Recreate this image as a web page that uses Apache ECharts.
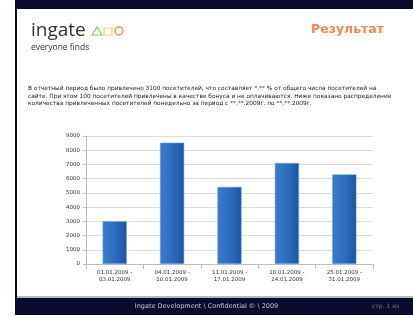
<!DOCTYPE html>
<html>
<head>
<meta charset="utf-8">
<script src="https://cdn.jsdelivr.net/npm/echarts@6/dist/echarts.min.js"></script>
<style>
  html, body { margin: 0; padding: 0; background: #fff; }
  #chart { width: 413px; height: 318px; }
</style>
</head>
<body>
<div id="chart"></div>
<script>
// weekly periods and visitor counts
const weeks = ['01.01.2009 -\n03.01.2009', '04.01.2009 -\n10.01.2009', '11.01.2009 -\n17.01.2009', '18.01.2009 -\n24.01.2009', '25.01.2009 -\n31.01.2009'];
const visitors = [3000, 8530, 5420, 7100, 6300];
const yTicks = [0, 1000, 2000, 3000, 4000, 5000, 6000, 7000, 8000, 9000];

const intro = [
    'В отчетный период было привлечено 3100 посетителей, что составляет *.** % от общего числа посетителей на',
    'сайте. При этом 100 посетителей привлечены в качестве бонуса и не оплачиваются. Ниже показано распределение',
    'количества привлеченных посетителей понедельно за период с **.**.2009г. по **.**.2009г.'
];

document.addEventListener('DOMContentLoaded', function () {
    const chart = echarts.init(document.getElementById('chart'));
    const navy = '#0b0b2c';

    const option = {
        animation: false,
        backgroundColor: '#fff',
        textStyle: { fontFamily: 'DejaVu Sans' },
        grid: { left: 86, right: 40, top: 136, bottom: 54 },
        xAxis: {
            type: 'category',
            data: weeks,
            axisLine: { lineStyle: { color: '#bdbdbd' } },
            axisTick: { show: true, lineStyle: { color: '#bdbdbd' } },
            axisLabel: { fontSize: 5.5, color: '#333', lineHeight: 7, margin: 5 }
        },
        yAxis: {
            type: 'value',
            min: yTicks[0],
            max: yTicks[yTicks.length - 1],
            interval: 1000,
            axisLine: { show: true, lineStyle: { color: '#bdbdbd' } },
            axisTick: { show: true, length: 3, lineStyle: { color: '#bdbdbd' } },
            axisLabel: {
                fontSize: 5.5, color: '#333', margin: 6,
                formatter: function (value) { return String(value); }
            },
            splitLine: { lineStyle: { color: '#dcdcdc' } }
        },
        series: [
            {
                type: 'bar',
                data: visitors,
                barWidth: '42%',
                itemStyle: {
                    color: new echarts.graphic.LinearGradient(0, 0, 1, 0, [
                        { offset: 0, color: '#3a7ccb' },
                        { offset: 0.5, color: '#2d6ebf' },
                        { offset: 1, color: '#1d559e' }
                    ]),
                    borderColor: '#6aa3e0',
                    borderWidth: 0.5
                }
            }
        ],
        graphic: [
            // frame
            { type: 'rect', shape: { x: 15, y: 0, width: 398, height: 9 }, style: { fill: navy } },
            { type: 'rect', shape: { x: 15, y: 0, width: 2, height: 315 }, style: { fill: navy } },
            { type: 'rect', shape: { x: 17, y: 296, width: 396, height: 2 }, style: { fill: '#b9b9b9' } },
            { type: 'rect', shape: { x: 15, y: 298, width: 398, height: 17 }, style: { fill: navy } },
            // header
            { type: 'text', left: 31, top: 21, style: { text: 'ingate', fontSize: 19, fontFamily: 'Open Sans', fill: '#333' } },
            { type: 'polygon', shape: { points: [[92, 35], [97, 27], [102, 35]] }, style: { fill: 'none', stroke: '#8cc36a', lineWidth: 1.2 } },
            { type: 'rect', shape: { x: 104, y: 28, width: 8, height: 7 }, style: { fill: 'none', stroke: '#f0d25a', lineWidth: 1.2 } },
            { type: 'circle', shape: { cx: 119, cy: 31, r: 4 }, style: { fill: 'none', stroke: '#ef8c55', lineWidth: 1.4 } },
            { type: 'text', left: 31, top: 43, style: { text: 'everyone finds', fontSize: 8.5, fontFamily: 'Open Sans', fill: '#333' } },
            { type: 'text', left: 311, top: 23, style: { text: 'Результат', fontSize: 12.5, fontWeight: 'bold', fontFamily: 'DejaVu Sans', fill: '#ec8a50' } },
            // intro paragraph
            { type: 'text', left: 28, top: 85, style: { text: intro.join('\n'), fontSize: 5.85, lineHeight: 7.5, fontFamily: 'DejaVu Sans', fill: '#222' } },
            // footer
            { type: 'text', left: 'center', top: 303, style: { text: 'Ingate Development \\ Confidential © \\ 2009', fontSize: 6.5, fontFamily: 'DejaVu Sans', fill: '#c8c8c8' } },
            { type: 'text', left: 372, top: 303, style: { text: 'стр. 1 из', fontSize: 6, fontFamily: 'DejaVu Sans', fill: '#777' } }
        ]
    };

    chart.setOption(option);
});
</script>
</body>
</html>
